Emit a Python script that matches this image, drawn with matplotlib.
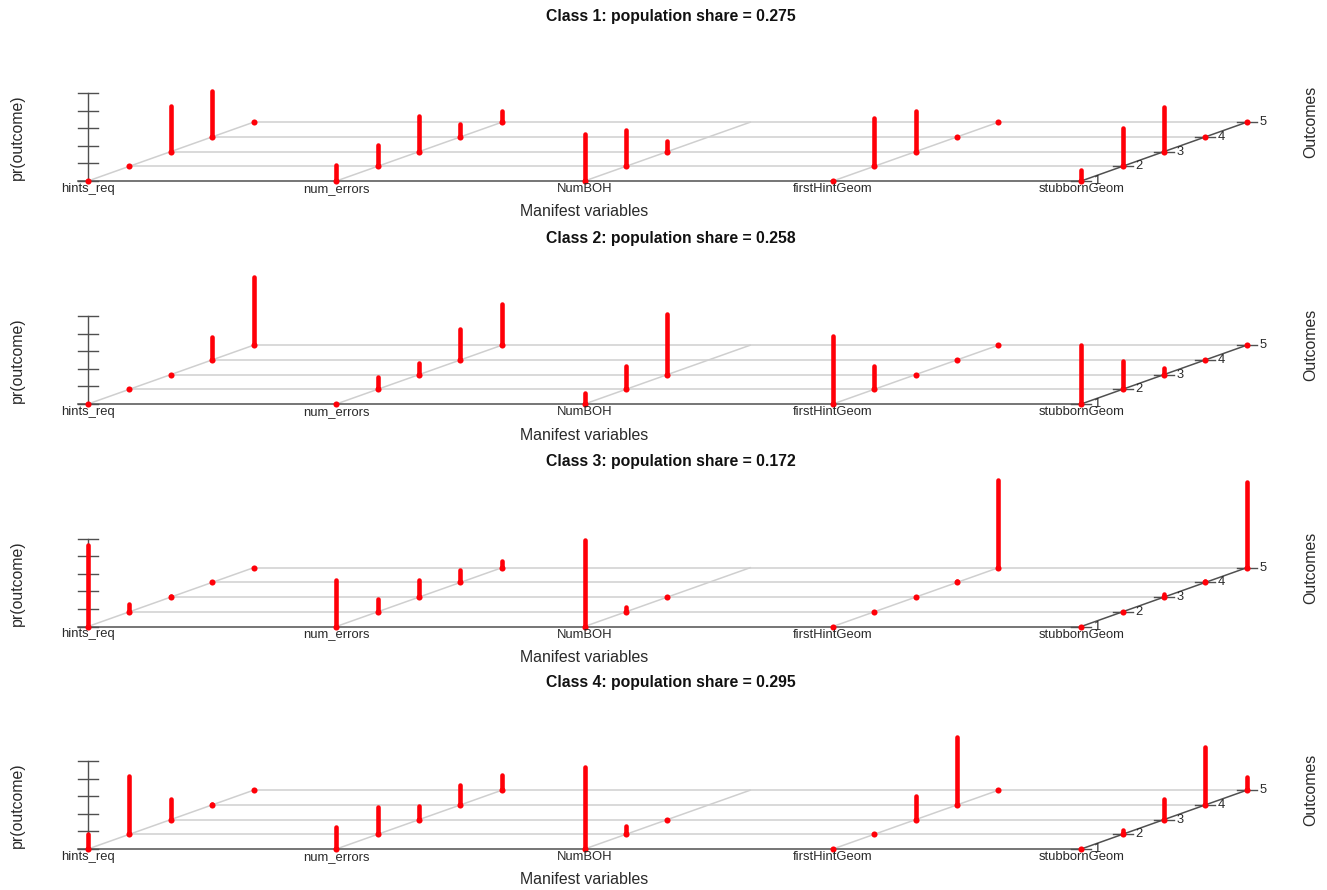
import matplotlib
matplotlib.use("Agg")
import matplotlib.pyplot as plt

plt.rcParams['font.family'] = ['Liberation Sans', 'DejaVu Sans']

manifest = ["hints_req", "num_errors", "NumBOH", "firstHintGeom", "stubbornGeom"]
outcomes = [1, 2, 3, 4, 5]
shares = [0.275, 0.258, 0.172, 0.295]
NA = None  # NumBOH has only three outcome levels

class1 = [[0.00, 0.00, 0.52, 0.52, 0.00],
          [0.18, 0.24, 0.40, 0.15, 0.13],
          [0.53, 0.41, 0.12, NA, NA],
          [0.00, 0.55, 0.46, 0.00, 0.00],
          [0.12, 0.43, 0.51, 0.00, 0.00]]
class2 = [[0.00, 0.00, 0.00, 0.26, 0.78],
          [0.00, 0.14, 0.13, 0.35, 0.47],
          [0.12, 0.26, 0.69, NA, NA],
          [0.77, 0.27, 0.00, 0.00, 0.00],
          [0.67, 0.32, 0.07, 0.00, 0.00]]
class3 = [[0.93, 0.09, 0.01, 0.00, 0.00],
          [0.53, 0.15, 0.20, 0.14, 0.08],
          [0.98, 0.06, 0.00, NA, NA],
          [0.00, 0.00, 0.00, 0.02, 1.00],
          [0.00, 0.00, 0.03, 0.02, 0.97]]
class4 = [[0.17, 0.66, 0.23, 0.01, 0.00],
          [0.25, 0.31, 0.16, 0.23, 0.17],
          [0.93, 0.10, 0.00, NA, NA],
          [0.00, 0.00, 0.27, 0.77, 0.00],
          [0.00, 0.05, 0.23, 0.66, 0.15]]
classes = [class1, class2, class3, class4]
y_ticks = [0, 0.2, 0.4, 0.6, 0.8, 1.0]

W, H = 1327, 890
bases = [181, 404, 626.5, 849]
title_y = [16, 239, 461.5, 683]
COL = 248.3          # px per manifest variable
UNIT = 88.0          # px per probability 1.0
DX, DY = 1/6, 0.167  # oblique shift per outcome, in data units
X0 = 88.0

fig = plt.figure(figsize=(W/100, H/100), dpi=100)
GRAY = "#cfcfcf"
DARK = "#505050"
TXT = "#2a2a2a"
RED = "#ff0008"

for k, (data, share) in enumerate(zip(classes, shares)):
    b = bases[k]
    top_px, bot_px = b - 130, b + 30
    ax = fig.add_axes([0, 1 - bot_px/H, 1, (bot_px - top_px)/H])
    ax.set_xlim(-X0/COL, (W - X0)/COL)
    ax.set_ylim(-30/UNIT, 130/UNIT)
    ax.axis("off")
    ax.patch.set_alpha(0)

    def P(c, o, p=0.0):
        return c + (o - 1)*DX, p + (o - 1)*DY

    tick_x = 10/COL
    for o in outcomes:
        x1, y1 = P(0, o)
        x2, y2 = P(len(manifest) - 1, o)
        if o == 1:
            ax.plot([x1 - tick_x, x2], [y1, y2], color=DARK, lw=1.1, zorder=2, clip_on=False)
        else:
            ax.plot([x1, x2], [y1, y2], color=GRAY, lw=1.1, zorder=1, clip_on=False)
    for c in range(len(manifest)):
        x1, y1 = P(c, 1)
        x2, y2 = P(c, 5)
        last = c == len(manifest) - 1
        ax.plot([x1, x2], [y1, y2], color=DARK if last else GRAY,
                lw=1.1, zorder=2 if last else 1, clip_on=False)
    ax.plot([0, 0], [0, 1], color=DARK, lw=1.0, zorder=2)
    for t in y_ticks:
        ax.plot([-tick_x, tick_x], [t, t], color=DARK, lw=1.0, zorder=2)
    for o in outcomes:
        x, y = P(len(manifest) - 1, o)
        ax.plot([x - tick_x, x + tick_x], [y, y], color=DARK, lw=1.0, zorder=2)
        ax.annotate(str(o), (x, y), xytext=(16, 0), textcoords="offset pixels",
                    ha="center", va="center", fontsize=9.3, color=TXT, zorder=5)
    for c, name in enumerate(manifest):
        ax.annotate(name, P(c, 1), xytext=(0, -11), textcoords="offset pixels",
                    ha="center", va="baseline", fontsize=9.35, color=TXT, zorder=5)
    for c, row in enumerate(data):
        for o, p in zip(outcomes, row):
            if p is None:
                continue
            x, y0 = P(c, o)
            _, y1 = P(c, o, p)
            if p > 0:
                ax.plot([x, x], [y0, y1], color=RED, lw=3.3, solid_capstyle="round",
                        zorder=4, clip_on=False)
            ax.plot([x], [y0], "o", color=RED, ms=4.4, mew=0, zorder=4, clip_on=False)

    fig.text(670.5/W, 1 - title_y[k]/H, f"Class {k+1}: population share = {share}",
             ha="center", va="center", fontsize=11.3, fontweight="bold", color="#111111")
    fig.text(584.5/W, 1 - (b + 31)/H, "Manifest variables", ha="center", va="center",
             fontsize=11.4, color=TXT)
    fig.text(17/W, 1 - (b - 43.5)/H, "pr(outcome)", rotation=90, ha="center", va="center",
             fontsize=11.4, color=TXT)
    fig.text(1311/W, 1 - (b - 59)/H, "Outcomes", rotation=90, ha="center", va="center",
             fontsize=11.4, color=TXT)

fig.savefig("out.png", dpi=100, facecolor="white")
